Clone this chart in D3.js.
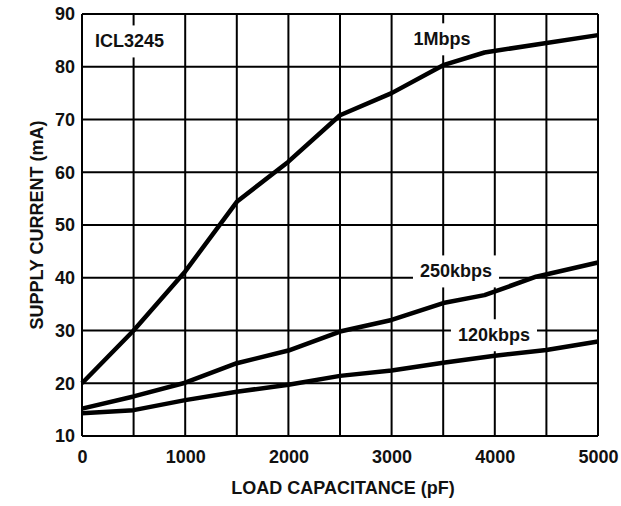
<!DOCTYPE html>
<html>
<head>
<meta charset="utf-8">
<script src="https://cdn.jsdelivr.net/npm/d3@7"></script>
<style>
  body { margin: 0; background: #fff; }
  svg text { font-family: "Liberation Sans", Arial, sans-serif; font-weight: bold; fill: #111; }
</style>
</head>
<body>
<div id="chart"></div>
<script>
// load capacitance (pF) vs supply current (mA)
const cap1M   = [0, 500, 1000, 1500, 2000, 2500, 3000, 3500, 3900, 5000];
const mA1M    = [20, 30, 41.2, 54.4, 62, 70.8, 75, 80.3, 82.7, 86];
const cap250k = [0, 500, 1000, 1500, 2000, 2500, 3000, 3500, 3900, 4400, 5000];
const mA250k  = [15.2, 17.5, 20.1, 23.8, 26.2, 29.8, 32, 35.2, 36.7, 40.2, 42.9];
const cap120k = [0, 500, 1000, 1500, 2000, 2500, 3000, 3500, 4000, 4500, 5000];
const mA120k  = [14.3, 14.9, 16.8, 18.4, 19.7, 21.4, 22.4, 23.9, 25.2, 26.3, 27.9];

const xTicks = [0, 1000, 2000, 3000, 4000, 5000];
const yTicks = [10, 20, 30, 40, 50, 60, 70, 80, 90];

// in-plot annotations, in data units
const labelText = ["ICL3245", "1Mbps", "250kbps", "120kbps"];
const labelCap  = [460, 3488, 3624, 3992];
const labelMA   = [84.8, 85.2, 41.2, 29.1];

const W = 621, H = 506;
const margin = { left: 82, right: 23, top: 14, bottom: 70 };

const svg = d3.select("#chart").append("svg")
  .attr("width", W)
  .attr("height", H);

const x = d3.scaleLinear().domain([0, 5000]).range([margin.left, W - margin.right]);
const y = d3.scaleLinear().domain([10, 90]).range([H - margin.bottom, margin.top]);

// grid
const grid = svg.append("g").attr("stroke", "#000").attr("stroke-width", 2);
grid.selectAll(".vline")
  .data(d3.range(0, 5001, 500))
  .enter().append("line")
  .attr("x1", d => x(d)).attr("x2", d => x(d))
  .attr("y1", y(10)).attr("y2", y(90));
grid.selectAll(".hline")
  .data(d3.range(10, 91, 10))
  .enter().append("line")
  .attr("x1", x(0)).attr("x2", x(5000))
  .attr("y1", d => y(d)).attr("y2", d => y(d));

// labels with white boxes that break the grid
const labels = svg.append("g");
labelText.forEach((t, i) => {
  const g = labels.append("g");
  const txt = g.append("text")
    .attr("x", x(labelCap[i]))
    .attr("y", y(labelMA[i]))
    .attr("text-anchor", "middle")
    .attr("dominant-baseline", "central")
    .style("font-size", "18px")
    .text(t);
  const bb = txt.node().getBBox();
  g.insert("rect", "text")
    .attr("x", bb.x - 7).attr("y", bb.y - 6)
    .attr("width", bb.width + 14).attr("height", bb.height + 12)
    .attr("fill", "#fff");
});

// curves
const line = d3.line().x(d => x(d[0])).y(d => y(d[1]));
const series = [
  d3.zip(cap1M, mA1M),
  d3.zip(cap250k, mA250k),
  d3.zip(cap120k, mA120k)
];
svg.append("g").selectAll("path")
  .data(series)
  .enter().append("path")
  .attr("d", line)
  .attr("fill", "none")
  .attr("stroke", "#000")
  .attr("stroke-width", 4.5)
  .attr("stroke-linejoin", "round");

// axes (labels only)
const xAxis = d3.axisBottom(x).tickValues(xTicks).tickFormat(d3.format("d")).tickSize(0).tickPadding(14);
const yAxis = d3.axisLeft(y).tickValues(yTicks).tickFormat(d3.format("d")).tickSize(0).tickPadding(7);

const gx = svg.append("g")
  .attr("transform", `translate(0, ${y(10)})`)
  .call(xAxis);
const gy = svg.append("g")
  .attr("transform", `translate(${x(0)}, 0)`)
  .call(yAxis);
[gx, gy].forEach(g => {
  g.select(".domain").remove();
  g.selectAll("text").style("font-size", "18px").attr("font-family", null);
});

svg.append("text")
  .attr("x", (x(0) + x(5000)) / 2 + 3)
  .attr("y", 494)
  .attr("text-anchor", "middle")
  .style("font-size", "18px")
  .text("LOAD CAPACITANCE (pF)");

svg.append("text")
  .attr("transform", `translate(43, ${(y(10) + y(90)) / 2}) rotate(-90)`)
  .attr("text-anchor", "middle")
  .style("font-size", "18px")
  .text("SUPPLY CURRENT (mA)");
</script>
</body>
</html>
